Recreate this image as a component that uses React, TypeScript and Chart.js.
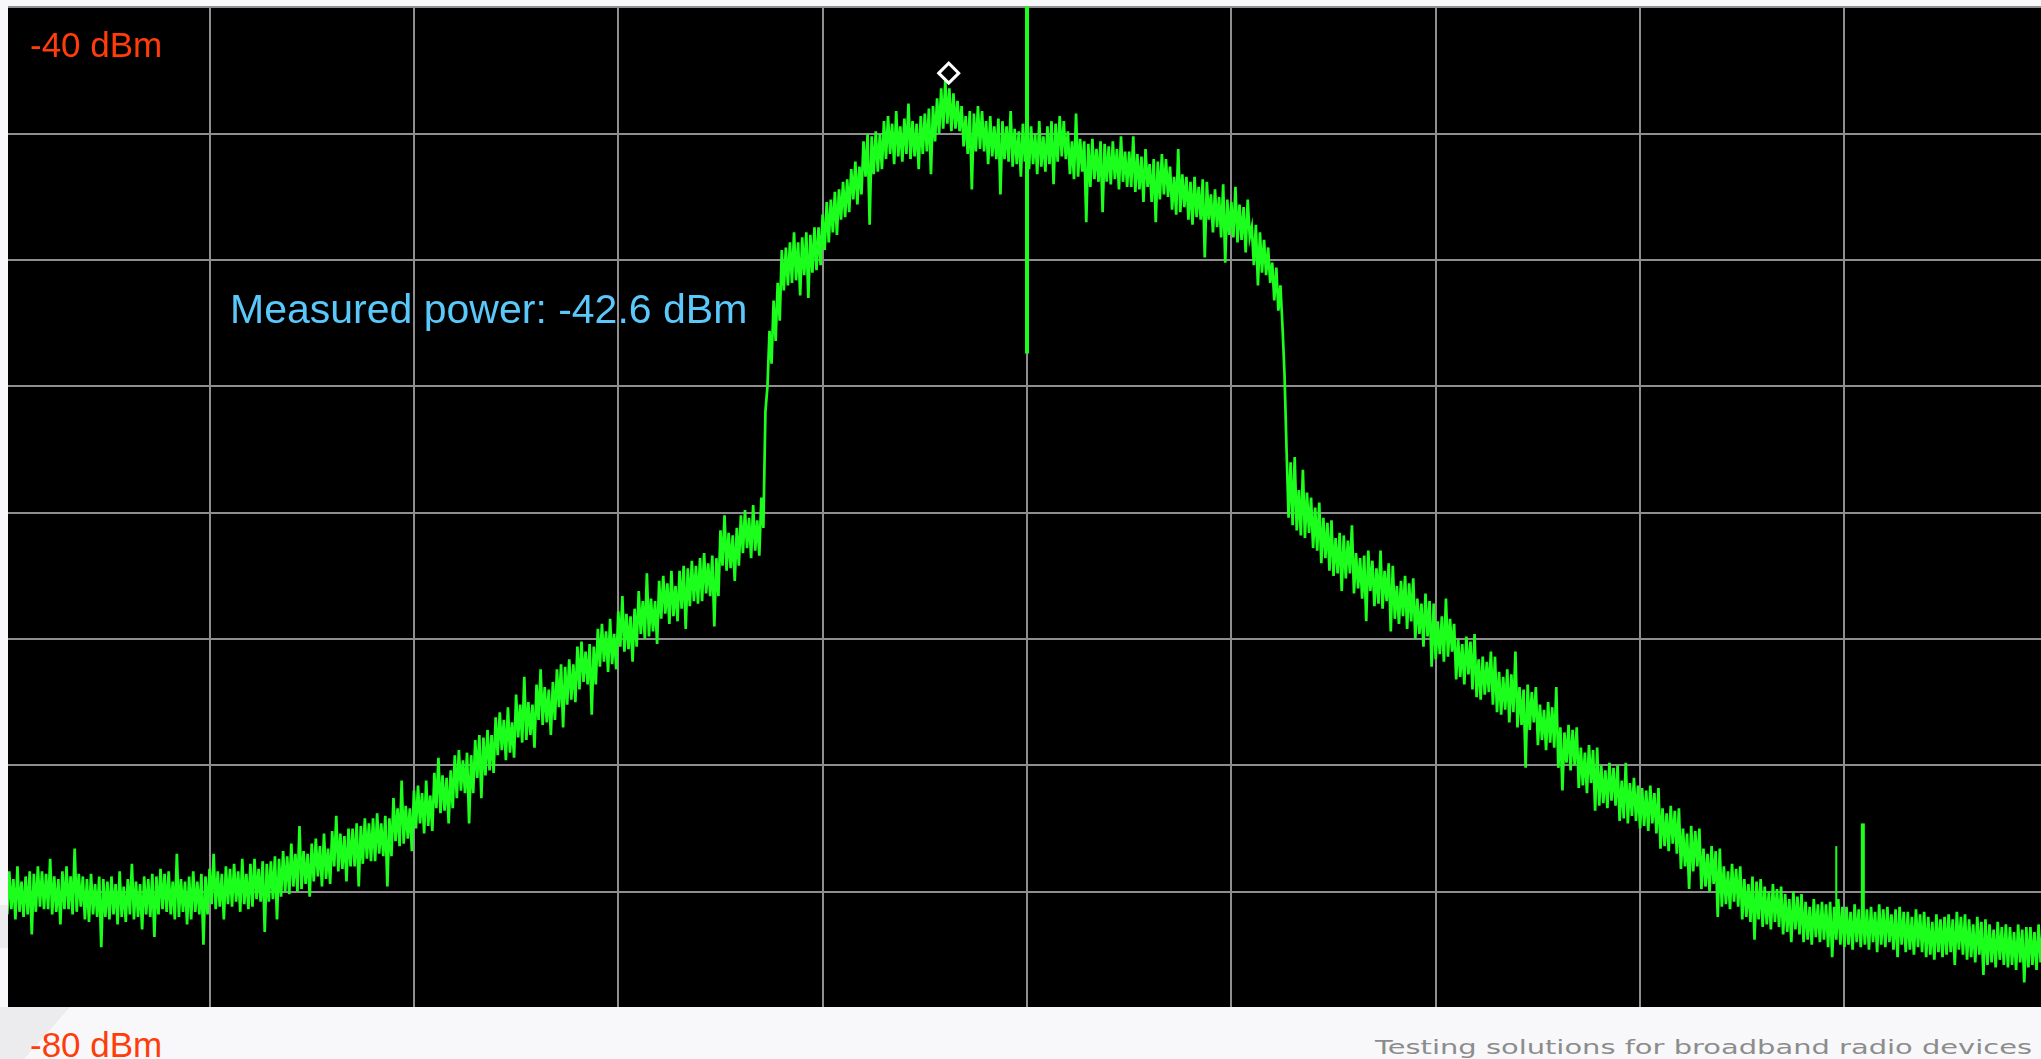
import React, { useEffect, useRef } from 'react';
import { Chart, registerables } from 'chart.js';

Chart.register(...registerables);

// Sweep trace: 100 samples per horizontal division, amplitude in dBm.
const SAMPLES_PER_DIVISION = 100;

const traceDiv0 = [
  -74.4, -75.9, -74.2, -75.7, -74.5, -76.1, -74.0, -75.8, -74.6, -76.0,
  -74.4, -75.9, -74.2, -76.7, -74.3, -75.8, -74.0, -75.6, -74.2, -75.7,
  -74.3, -75.7, -73.7, -75.9, -74.4, -75.8, -74.5, -76.3, -74.2, -75.7,
  -74.0, -75.7, -74.4, -75.9, -73.3, -75.8, -74.3, -75.6, -74.4, -76.1,
  -74.5, -76.2, -74.3, -75.9, -74.7, -76.0, -74.4, -77.2, -74.5, -76.0,
  -74.6, -76.1, -74.4, -75.9, -74.7, -76.3, -74.2, -76.0, -74.8, -76.2,
  -74.5, -75.9, -73.9, -76.1, -74.6, -76.0, -74.7, -76.5, -74.4, -75.9,
  -74.5, -76.0, -74.3, -76.8, -74.4, -75.9, -74.1, -75.7, -74.3, -75.8,
  -74.2, -75.9, -74.6, -76.1, -73.5, -76.0, -74.5, -75.8, -74.6, -76.3,
  -74.4, -76.1, -74.2, -75.8, -74.6, -75.9, -74.3, -77.1, -74.4, -75.9,
];
const traceDiv1 = [
  -74.1, -75.5, -73.5, -75.7, -74.2, -75.6, -74.3, -76.1, -74.0, -75.5,
  -74.1, -75.6, -73.9, -75.4, -74.2, -75.8, -73.7, -75.5, -74.3, -75.7,
  -73.9, -75.6, -73.7, -75.3, -74.1, -75.4, -73.8, -76.6, -73.9, -75.4,
  -73.8, -75.3, -73.6, -76.1, -73.7, -75.2, -73.4, -75.0, -73.6, -75.1,
  -73.1, -74.8, -73.5, -75.0, -72.4, -74.9, -73.4, -74.7, -73.5, -75.2,
  -73.1, -74.6, -72.9, -74.4, -73.2, -74.8, -72.7, -74.5, -73.3, -74.7,
  -72.6, -74.0, -72.0, -74.2, -72.7, -74.1, -72.8, -74.6, -72.5, -74.0,
  -72.5, -74.0, -72.3, -74.8, -72.4, -73.9, -72.1, -73.7, -72.3, -73.8,
  -72.1, -73.8, -71.9, -73.5, -72.3, -73.6, -72.0, -74.8, -72.1, -73.6,
  -71.3, -73.0, -71.7, -73.2, -70.6, -73.1, -71.6, -72.9, -71.7, -73.4,
];
const traceDiv2 = [
  -71.0, -72.5, -70.8, -72.3, -71.1, -72.7, -70.6, -72.4, -71.2, -72.6,
  -70.3, -71.7, -69.7, -71.9, -70.4, -71.8, -70.5, -72.3, -70.2, -71.7,
  -69.6, -71.3, -69.4, -71.0, -69.8, -71.1, -69.5, -72.3, -69.6, -71.1,
  -69.0, -70.5, -68.8, -71.3, -68.9, -70.4, -68.6, -70.2, -68.8, -70.3,
  -68.1, -69.6, -67.9, -69.4, -68.2, -69.8, -67.7, -69.5, -68.3, -69.7,
  -67.2, -68.9, -67.6, -69.1, -66.5, -69.0, -67.5, -68.8, -67.6, -69.3,
  -66.8, -68.2, -66.2, -68.4, -66.9, -68.3, -67.0, -68.8, -66.7, -68.2,
  -66.2, -67.7, -66.0, -68.5, -66.1, -67.6, -65.8, -67.4, -66.0, -67.5,
  -65.3, -67.0, -65.1, -66.7, -65.5, -66.8, -65.2, -68.0, -65.3, -66.8,
  -64.6, -66.1, -64.4, -65.9, -64.7, -66.3, -64.2, -66.0, -64.8, -66.2,
];
const traceDiv3 = [
  -63.9, -65.3, -63.3, -65.5, -64.0, -65.4, -64.1, -65.9, -63.8, -65.3,
  -63.1, -64.8, -63.5, -65.0, -62.4, -64.9, -63.4, -64.7, -63.5, -65.2,
  -62.7, -64.2, -62.5, -64.0, -62.8, -64.4, -62.3, -64.1, -62.9, -64.3,
  -62.3, -63.8, -62.1, -64.6, -62.2, -63.7, -61.9, -63.5, -62.1, -63.6,
  -61.8, -63.5, -61.6, -63.2, -62.0, -63.3, -61.7, -64.5, -61.8, -63.3,
  -60.7, -62.1, -60.1, -62.3, -60.8, -62.2, -60.9, -62.7, -60.6, -62.1,
  -60.1, -61.6, -59.9, -61.4, -60.2, -61.8, -59.7, -61.5, -60.3, -61.7,
  -59.4, -60.6, -56.0, -55.0, -52.8, -54.1, -51.6, -53.2, -50.9, -52.4,
  -49.6, -51.2, -49.5, -51.0, -49.3, -50.9, -48.9, -50.8, -49.3, -51.4,
  -49.1, -50.6, -48.9, -51.5, -49.0, -50.5, -48.7, -50.4, -48.7, -50.2,
];
const traceDiv4 = [
  -48.2, -49.6, -47.7, -49.3, -47.6, -48.9, -47.3, -49.0, -47.2, -48.4,
  -46.9, -48.3, -46.8, -48.1, -46.4, -47.6, -46.1, -47.8, -46.3, -47.4,
  -45.3, -46.7, -45.0, -48.6, -45.1, -46.6, -44.9, -46.5, -45.0, -46.4,
  -44.5, -46.0, -44.3, -45.8, -44.6, -46.2, -44.1, -45.9, -44.7, -46.1,
  -44.4, -45.8, -43.8, -46.0, -44.5, -45.9, -44.6, -46.4, -44.3, -45.8,
  -44.2, -45.7, -44.0, -46.6, -43.9, -45.3, -43.6, -45.0, -43.2, -44.8,
  -42.9, -44.6, -43.2, -44.9, -43.4, -44.8, -43.7, -44.9, -43.9, -45.5,
  -44.3, -45.8, -44.1, -47.2, -44.2, -45.7, -43.9, -45.6, -44.1, -45.7,
  -44.5, -46.2, -44.3, -45.9, -44.7, -46.0, -44.4, -47.4, -44.5, -46.0,
  -44.7, -46.1, -44.1, -46.3, -44.8, -46.2, -44.9, -46.7, -44.6, -46.1,
];
const traceDiv5 = [
  -44.9, -46.4, -44.7, -46.2, -45.0, -46.6, -44.5, -46.3, -45.1, -46.5,
  -44.7, -46.2, -44.5, -47.0, -44.6, -46.1, -44.3, -45.9, -44.5, -46.0,
  -44.9, -46.6, -45.3, -46.8, -44.2, -46.7, -45.2, -46.5, -45.3, -48.5,
  -45.4, -47.1, -45.2, -46.8, -45.6, -46.9, -45.3, -48.1, -45.4, -46.9,
  -45.5, -47.0, -45.3, -46.8, -45.6, -47.2, -45.1, -46.9, -45.7, -47.1,
  -45.7, -47.1, -45.1, -47.3, -45.8, -47.2, -45.9, -47.7, -45.6, -47.1,
  -46.2, -47.7, -46.0, -48.5, -46.1, -47.6, -45.8, -47.4, -46.0, -47.5,
  -46.3, -48.0, -46.7, -48.2, -45.6, -48.1, -46.6, -47.9, -46.7, -48.4,
  -46.9, -48.6, -46.7, -48.3, -47.1, -48.4, -46.8, -49.9, -46.9, -48.4,
  -47.4, -48.9, -47.2, -48.7, -47.5, -49.1, -47.0, -50.1, -47.6, -49.0,
];
const traceDiv6 = [
  -47.7, -49.1, -47.1, -49.3, -47.8, -49.2, -47.9, -49.7, -47.6, -49.1,
  -48.7, -50.2, -48.6, -51.0, -48.9, -50.5, -49.2, -50.6, -49.5, -50.9,
  -50.1, -51.6, -50.3, -52.0, -51.0, -52.6, -54.5, -57.5, -60.2, -58.0,
  -60.5, -57.8, -60.7, -59.1, -60.9, -58.3, -61.0, -59.2, -60.8, -59.4,
  -61.4, -59.8, -61.5, -59.6, -62.0, -60.2, -61.8, -60.4, -62.3, -60.3,
  -62.5, -61.0, -62.4, -60.8, -63.1, -60.9, -62.6, -61.1, -62.4, -60.5,
  -63.2, -61.6, -63.0, -61.8, -63.4, -61.7, -64.3, -61.5, -63.1, -61.9,
  -63.7, -62.2, -63.6, -61.5, -63.8, -62.3, -63.5, -62.0, -64.7, -62.1,
  -64.2, -62.9, -64.4, -62.7, -64.1, -62.5, -64.6, -62.8, -64.3, -62.6,
  -65.0, -63.4, -64.8, -63.6, -65.3, -63.2, -64.9, -63.5, -66.1, -63.6,
];
const traceDiv7 = [
  -65.8, -64.3, -65.6, -64.1, -65.9, -63.4, -65.7, -64.2, -65.5, -64.4,
  -66.6, -65.0, -66.5, -65.2, -66.8, -64.9, -66.4, -65.1, -67.0, -64.8,
  -67.3, -65.8, -67.4, -65.7, -67.2, -65.9, -67.1, -65.5, -67.6, -65.7,
  -67.9, -66.3, -68.0, -66.5, -67.8, -66.2, -68.3, -66.4, -67.9, -65.5,
  -68.5, -66.9, -68.4, -67.0, -70.1, -66.8, -68.6, -67.1, -68.3, -66.9,
  -69.2, -67.6, -69.0, -67.8, -69.4, -67.5, -69.1, -67.7, -69.3, -66.9,
  -70.1, -68.5, -71.0, -68.7, -69.9, -68.4, -70.2, -68.6, -70.0, -68.5,
  -70.9, -69.3, -70.8, -69.5, -71.1, -69.2, -70.7, -69.4, -71.8, -69.3,
  -71.6, -70.0, -71.5, -70.2, -71.7, -69.9, -71.4, -70.1, -71.6, -70.0,
  -72.2, -70.6, -72.1, -69.9, -72.3, -70.7, -72.0, -70.5, -72.2, -70.8,
];
const traceDiv8 = [
  -72.5, -70.9, -72.4, -71.0, -72.6, -70.8, -72.3, -71.1, -72.7, -70.9,
  -73.3, -71.7, -73.2, -71.9, -73.4, -71.6, -73.1, -71.8, -73.5, -71.7,
  -74.1, -72.5, -74.0, -72.7, -74.9, -72.4, -74.2, -72.6, -74.0, -72.5,
  -74.9, -73.3, -74.8, -73.5, -75.0, -73.2, -74.7, -73.4, -76.0, -73.3,
  -75.6, -74.0, -75.5, -74.2, -75.7, -73.9, -75.4, -74.1, -75.6, -74.0,
  -76.1, -74.5, -76.0, -74.7, -76.2, -74.4, -76.9, -74.6, -76.1, -74.5,
  -76.4, -74.8, -76.3, -75.0, -76.5, -74.7, -76.2, -74.9, -76.4, -74.8,
  -76.7, -75.1, -76.6, -75.3, -77.0, -75.0, -76.5, -75.2, -76.7, -75.1,
  -77.0, -75.4, -76.9, -75.6, -77.1, -75.3, -76.8, -75.5, -77.0, -75.4,
  -76.9, -75.5, -77.2, -75.4, -77.6, -75.6, -76.9, -75.3, -77.1, -75.6,
];
const traceDiv9 = [
  -77.2, -75.6, -77.1, -75.8, -77.3, -75.5, -77.0, -75.7, -77.2, -75.6,
  -77.1, -75.7, -77.3, -75.6, -77.0, -75.8, -77.4, -75.5, -77.1, -75.7,
  -77.2, -75.6, -77.0, -75.9, -77.3, -75.7, -77.6, -75.6, -77.1, -75.8,
  -77.4, -75.8, -77.3, -76.0, -77.5, -75.7, -77.2, -75.9, -77.4, -75.8,
  -77.6, -76.0, -77.5, -76.2, -77.7, -75.9, -77.4, -76.1, -77.6, -76.0,
  -77.5, -75.9, -77.4, -76.1, -77.9, -75.8, -77.3, -76.0, -77.5, -75.9,
  -77.7, -76.1, -77.6, -76.3, -77.8, -76.0, -77.5, -76.2, -78.3, -76.1,
  -77.9, -76.3, -77.8, -76.5, -78.0, -76.2, -77.7, -76.4, -77.9, -76.3,
  -78.0, -76.4, -77.9, -76.6, -78.1, -76.3, -77.8, -76.5, -78.6, -76.4,
  -78.0, -76.4, -77.9, -76.6, -78.1, -76.3, -77.8, -76.5, -78.0, -76.4,
];

const traceDivisions = [
  traceDiv0, traceDiv1, traceDiv2, traceDiv3, traceDiv4,
  traceDiv5, traceDiv6, traceDiv7, traceDiv8, traceDiv9,
];

// Narrow spectral lines: [division, floor dBm, top dBm]
const carrierLine = [5.0, -53.7, -38.0];
const spurLineA = [8.96, -76.3, -73.2];
const spurLineB = [9.09, -76.5, -72.3];

// Peak marker
const peakMarker = [4.617, -42.6];

// Graticule
const xGridDivisions = [1, 2, 3, 4, 5, 6, 7, 8, 9];
const yGridLevels = [-40, -45, -50, -55, -60, -65, -70, -75, -80];
const refLevelLabel = '-40 dBm';
const bottomLevelLabel = '-80 dBm';
const powerLabel = 'Measured power: -42.6 dBm';
const footerText = 'Testing solutions for broadband radio devices';

// Screen geometry of the analyzer display (px)
const FRAME_LEFT = 8;
const FRAME_TOP = 6;
const FRAME_RIGHT = 2041;
const FRAME_BOTTOM = 1007;
const DIV_ORIGIN_X = 5.2;
const DIV_WIDTH = 204.36;
const REF_LINE_Y = 7.5;
const PX_PER_DB = 25.26;

const X_MIN = (FRAME_LEFT - DIV_ORIGIN_X) / DIV_WIDTH;
const X_MAX = (FRAME_RIGHT - DIV_ORIGIN_X) / DIV_WIDTH;
const Y_MAX = -40 + (REF_LINE_Y - FRAME_TOP) / PX_PER_DB;
const Y_MIN = -40 - (FRAME_BOTTOM - REF_LINE_Y) / PX_PER_DB;

const TRACE_GREEN = '#1cff1c';
const GRID_GRAY = '#8e8e8e';

function SpectrumDisplay() {
  const canvasRef = useRef<HTMLCanvasElement | null>(null);

  useEffect(() => {
    const canvas = canvasRef.current;
    if (!canvas) return;

    const tracePoints = traceDivisions.flatMap((values, div) =>
      values.map((v, k) => ({ x: div + k / SAMPLES_PER_DIVISION, y: v }))
    );
    const verticalLine = (line: number[]) => [
      { x: line[0], y: line[1] },
      { x: line[0], y: line[2] },
    ];

    const chart = new Chart(canvas, {
      type: 'line',
      data: {
        datasets: [
          {
            label: 'Peak',
            type: 'scatter',
            data: [{ x: peakMarker[0], y: peakMarker[1] }],
            pointStyle: 'rectRot',
            pointRadius: 10,
            borderColor: '#ffffff',
            backgroundColor: '#000000',
            borderWidth: 3,
            showLine: false,
            order: 0,
          } as any,
          {
            label: 'Carrier',
            data: verticalLine(carrierLine),
            borderColor: TRACE_GREEN,
            borderWidth: 4,
            pointRadius: 0,
            order: 1,
          },
          {
            label: 'Spur A',
            data: verticalLine(spurLineA),
            borderColor: TRACE_GREEN,
            borderWidth: 2,
            pointRadius: 0,
            order: 1,
          },
          {
            label: 'Spur B',
            data: verticalLine(spurLineB),
            borderColor: TRACE_GREEN,
            borderWidth: 4,
            pointRadius: 0,
            order: 1,
          },
          {
            label: 'Trace',
            data: tracePoints,
            borderColor: TRACE_GREEN,
            borderWidth: 2.7,
            pointRadius: 0,
            tension: 0,
            fill: false,
            order: 2,
          },
        ],
      },
      options: {
        animation: false,
        responsive: false,
        maintainAspectRatio: false,
        devicePixelRatio: 1,
        events: [],
        layout: { padding: 0, autoPadding: false },
        plugins: {
          legend: { display: false },
          tooltip: { enabled: false },
        },
        scales: {
          x: {
            type: 'linear',
            min: X_MIN,
            max: X_MAX,
            afterBuildTicks: (scale: any) => {
              scale.ticks = xGridDivisions.map((v) => ({ value: v }));
            },
            afterFit: (scale: any) => {
              scale.height = 0;
            },
            ticks: { display: false },
            grid: { color: GRID_GRAY, lineWidth: 2, drawTicks: false },
            border: { display: false },
          },
          y: {
            type: 'linear',
            min: Y_MIN,
            max: Y_MAX,
            afterBuildTicks: (scale: any) => {
              scale.ticks = yGridLevels.map((v) => ({ value: v }));
            },
            afterFit: (scale: any) => {
              scale.width = 0;
            },
            ticks: { display: false },
            grid: { color: GRID_GRAY, lineWidth: 2, drawTicks: false },
            border: { display: false },
          },
        },
      } as any,
    });

    return () => chart.destroy();
  }, []);

  return (
    <div
      style={{
        position: 'absolute',
        left: FRAME_LEFT,
        top: FRAME_TOP,
        width: FRAME_RIGHT - FRAME_LEFT,
        height: FRAME_BOTTOM - FRAME_TOP,
        background: '#000',
        overflow: 'hidden',
      }}
    >
      <canvas
        ref={canvasRef}
        width={FRAME_RIGHT - FRAME_LEFT}
        height={FRAME_BOTTOM - FRAME_TOP}
        style={{ display: 'block' }}
      />
    </div>
  );
}

const labelFont = '"Liberation Sans", Arial, Helvetica, sans-serif';

export default function App() {
  return (
    <div
      style={{
        position: 'fixed',
        left: 0,
        top: 0,
        width: 2041,
        height: 1059,
        background: '#f8f8fa',
        overflow: 'hidden',
      }}
    >
      <svg
        width={2041}
        height={1059}
        style={{ position: 'absolute', left: 0, top: 0, pointerEvents: 'none' }}
      >
        {/* faint backdrop logo strokes */}
        <polygon points="0,1007 70,1007 24,1059 0,1059" fill="#ececef" />
        <polygon points="0,905 8,905 8,948 0,948" fill="#ececef" />
        <text
          x={1375}
          y={1053.5}
          textLength={657}
          lengthAdjust="spacingAndGlyphs"
          fontFamily='"DejaVu Sans", sans-serif'
          fontSize={19}
          fill="#8c8c8c"
        >
          {footerText}
        </text>
      </svg>
      <SpectrumDisplay />
      <div
        style={{
          position: 'absolute',
          left: 30,
          top: 27,
          fontFamily: labelFont,
          fontSize: 35,
          lineHeight: '35px',
          color: '#ff3c0a',
          whiteSpace: 'nowrap',
        }}
      >
        {refLevelLabel}
      </div>
      <div
        style={{
          position: 'absolute',
          left: 30,
          top: 1027,
          fontFamily: labelFont,
          fontSize: 35,
          lineHeight: '35px',
          color: '#ff3c0a',
          whiteSpace: 'nowrap',
        }}
      >
        {bottomLevelLabel}
      </div>
      <div
        style={{
          position: 'absolute',
          left: 230,
          top: 289,
          fontFamily: labelFont,
          fontSize: 41,
          lineHeight: '41px',
          color: '#5ac8fa',
          whiteSpace: 'nowrap',
        }}
      >
        {powerLabel}
      </div>
    </div>
  );
}
